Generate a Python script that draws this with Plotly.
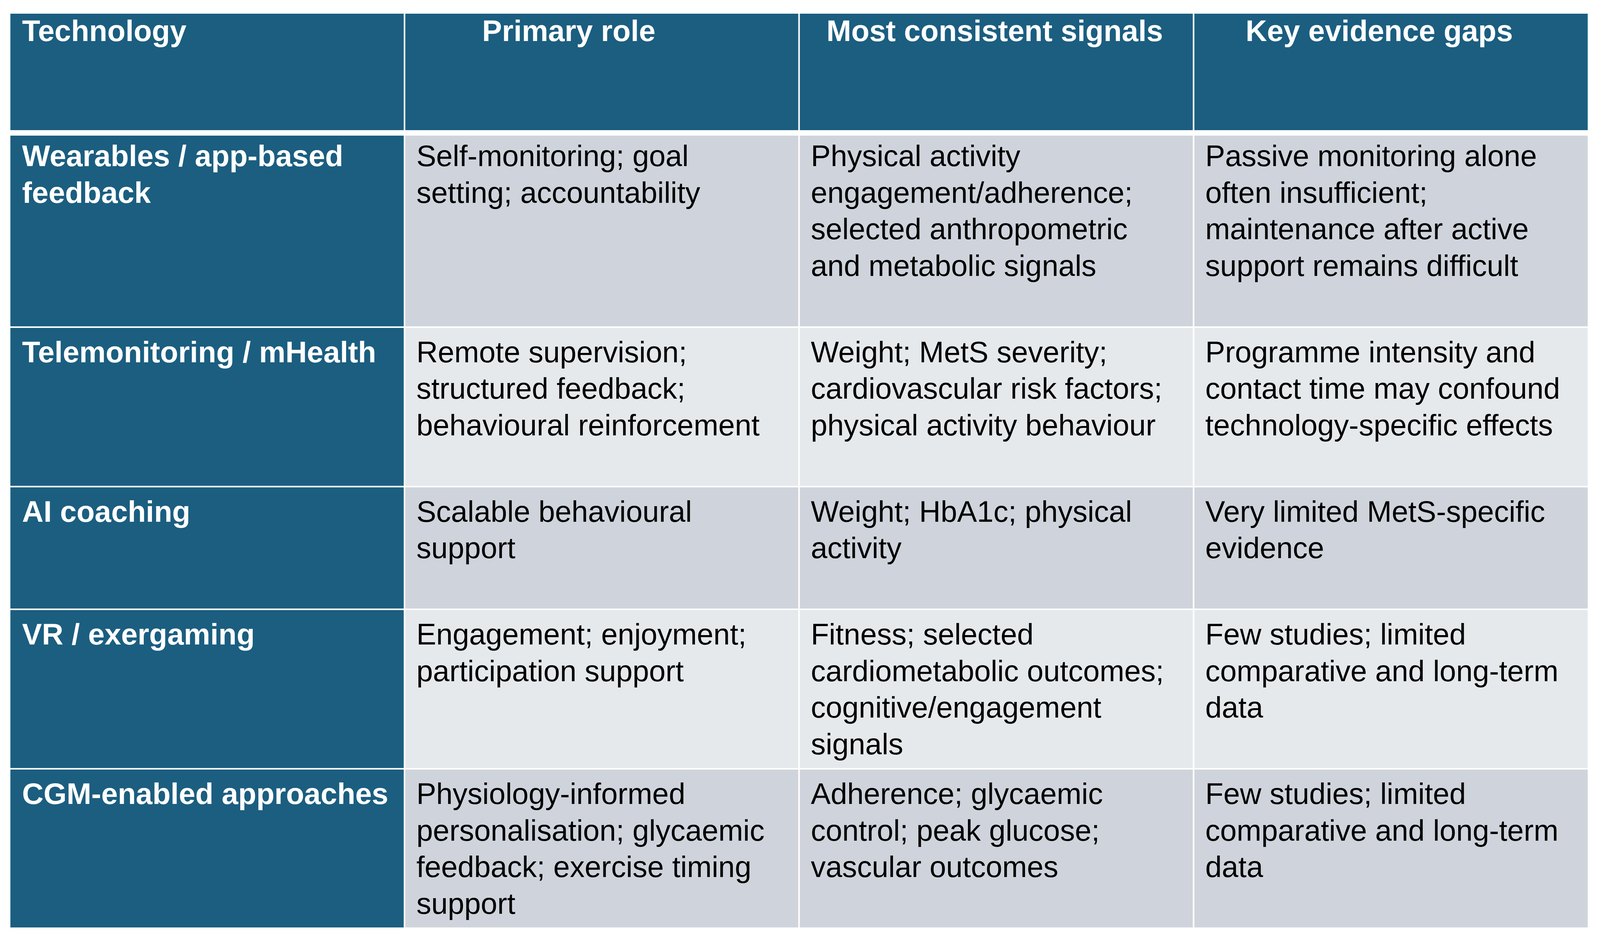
import plotly.graph_objects as go

### table content (line breaks as in the source figure)
headers = ["Technology", "Primary role", "Most consistent signals", "Key evidence gaps"]

technology = [
    ["Wearables / app-based", "feedback"],
    ["Telemonitoring / mHealth"],
    ["AI coaching"],
    ["VR / exergaming"],
    ["CGM-enabled approaches"],
]
primary_role = [
    ["Self-monitoring; goal", "setting; accountability"],
    ["Remote supervision;", "structured feedback;", "behavioural reinforcement"],
    ["Scalable behavioural", "support"],
    ["Engagement; enjoyment;", "participation support"],
    ["Physiology-informed", "personalisation; glycaemic", "feedback; exercise timing", "support"],
]
signals = [
    ["Physical activity", "engagement/adherence;", "selected anthropometric", "and metabolic signals"],
    ["Weight; MetS severity;", "cardiovascular risk factors;", "physical activity behaviour"],
    ["Weight; HbA1c; physical", "activity"],
    ["Fitness; selected", "cardiometabolic outcomes;", "cognitive/engagement", "signals"],
    ["Adherence; glycaemic", "control; peak glucose;", "vascular outcomes"],
]
gaps = [
    ["Passive monitoring alone", "often insufficient;", "maintenance after active", "support remains difficult"],
    ["Programme intensity and", "contact time may confound", "technology-specific effects"],
    ["Very limited MetS-specific", "evidence"],
    ["Few studies; limited", "comparative and long-term", "data"],
    ["Few studies; limited", "comparative and long-term", "data"],
]

### layout constants (coordinates in picture pixels, 4216 x 2400)
W, H = 4216, 2400
FS = 76            # font size (css px)
LINE = 93.5        # line pitch
PAD_X = 31         # left text padding
HEAD_BASE = 70     # header baseline below header top
FIRST_BASE = 90    # first baseline below row top
ROW_PAD = 34
EXTRA_LINES = [1, 1, 1, 0, 0]   # blank trailing line in the first rows
HEADER_SHIFT = [0, -87, -4, -31]
GAP = 4            # white rule between cells
HEAD_GAP = 10      # thicker white rule under the header
BODY_MARGIN = 8
DARK, GREY, LIGHT = "#1B5E80", "#CFD4DC", "#E6E9EC"
FONT = "Liberation Sans, Arial, sans-serif"

columns = [technology, primary_role, signals, gaps]
n_rows = len(technology)

x_edges = [25, 1066, 2105.5, 3145, 4186]
header_top, header_bot = 33, 335

# row edges from line counts
row_edges = [header_bot]
for r in range(n_rows):
    n = max(len(col[r]) for col in columns) + EXTRA_LINES[r]
    row_edges.append(row_edges[-1] + n * LINE + ROW_PAD)

y_edges = [header_top, header_bot, header_bot + HEAD_GAP] + row_edges[1:]
z = [[0, 0, 0, 0], [None, None, None, None]]
for r in range(n_rows):
    shade = 1 if r % 2 == 0 else 2
    z.append([0, shade, shade, shade])

fig = go.Figure()
fig.add_trace(go.Heatmap(
    x=x_edges, y=y_edges, z=z,
    zmin=0, zmax=2,
    colorscale=[[0, DARK], [0.5, GREY], [1, LIGHT]],
    showscale=False, xgap=GAP, ygap=GAP, hoverinfo="skip",
))

# header text
hx, hy, ht, hp = [], [], [], []
for c, label in enumerate(headers):
    if c == 0:
        hx.append(x_edges[0] + 2 + PAD_X)
        hp.append("middle right")
    else:
        hx.append((x_edges[c] + x_edges[c + 1]) / 2 + HEADER_SHIFT[c])
        hp.append("middle center")
    hy.append(header_top + 2 + HEAD_BASE - 0.25 * FS)
    ht.append(label)
fig.add_trace(go.Scatter(
    x=hx, y=hy, text=ht, mode="text", textposition=hp,
    textfont=dict(family=FONT, size=FS, color="white", weight="bold"),
    hoverinfo="skip", showlegend=False,
))

# body text, one point per line
bold_x, bold_y, bold_t = [], [], []
reg_x, reg_y, reg_t = [], [], []
for r in range(n_rows):
    top = row_edges[r]
    for c, col in enumerate(columns):
        for i, line in enumerate(col[r]):
            x = x_edges[c] + (2 if c == 0 else 0) + PAD_X
            y = top + FIRST_BASE + i * LINE - 0.25 * FS
            if c == 0:
                bold_x.append(x); bold_y.append(y); bold_t.append(line)
            else:
                reg_x.append(x); reg_y.append(y); reg_t.append(line)

fig.add_trace(go.Scatter(
    x=bold_x, y=bold_y, text=bold_t, mode="text", textposition="middle right",
    textfont=dict(family=FONT, size=FS, color="white", weight="bold"),
    hoverinfo="skip", showlegend=False,
))
fig.add_trace(go.Scatter(
    x=reg_x, y=reg_y, text=reg_t, mode="text", textposition="middle right",
    textfont=dict(family=FONT, size=FS, color="black"),
    hoverinfo="skip", showlegend=False,
))

# the figure fills the page inside the default body margin
fig.update_xaxes(range=[BODY_MARGIN, W - BODY_MARGIN], visible=False, fixedrange=True)
fig.update_yaxes(range=[H - BODY_MARGIN, BODY_MARGIN], visible=False, fixedrange=True)
fig.update_layout(
    autosize=True,
    margin=dict(l=0, r=0, t=0, b=0),
    paper_bgcolor="white", plot_bgcolor="white",
    showlegend=False,
)

fig.write_html(
    "out.html",
    config={"displayModeBar": False, "responsive": True},
    default_width="100%",
    default_height="calc(100vh - 16px)",
)
